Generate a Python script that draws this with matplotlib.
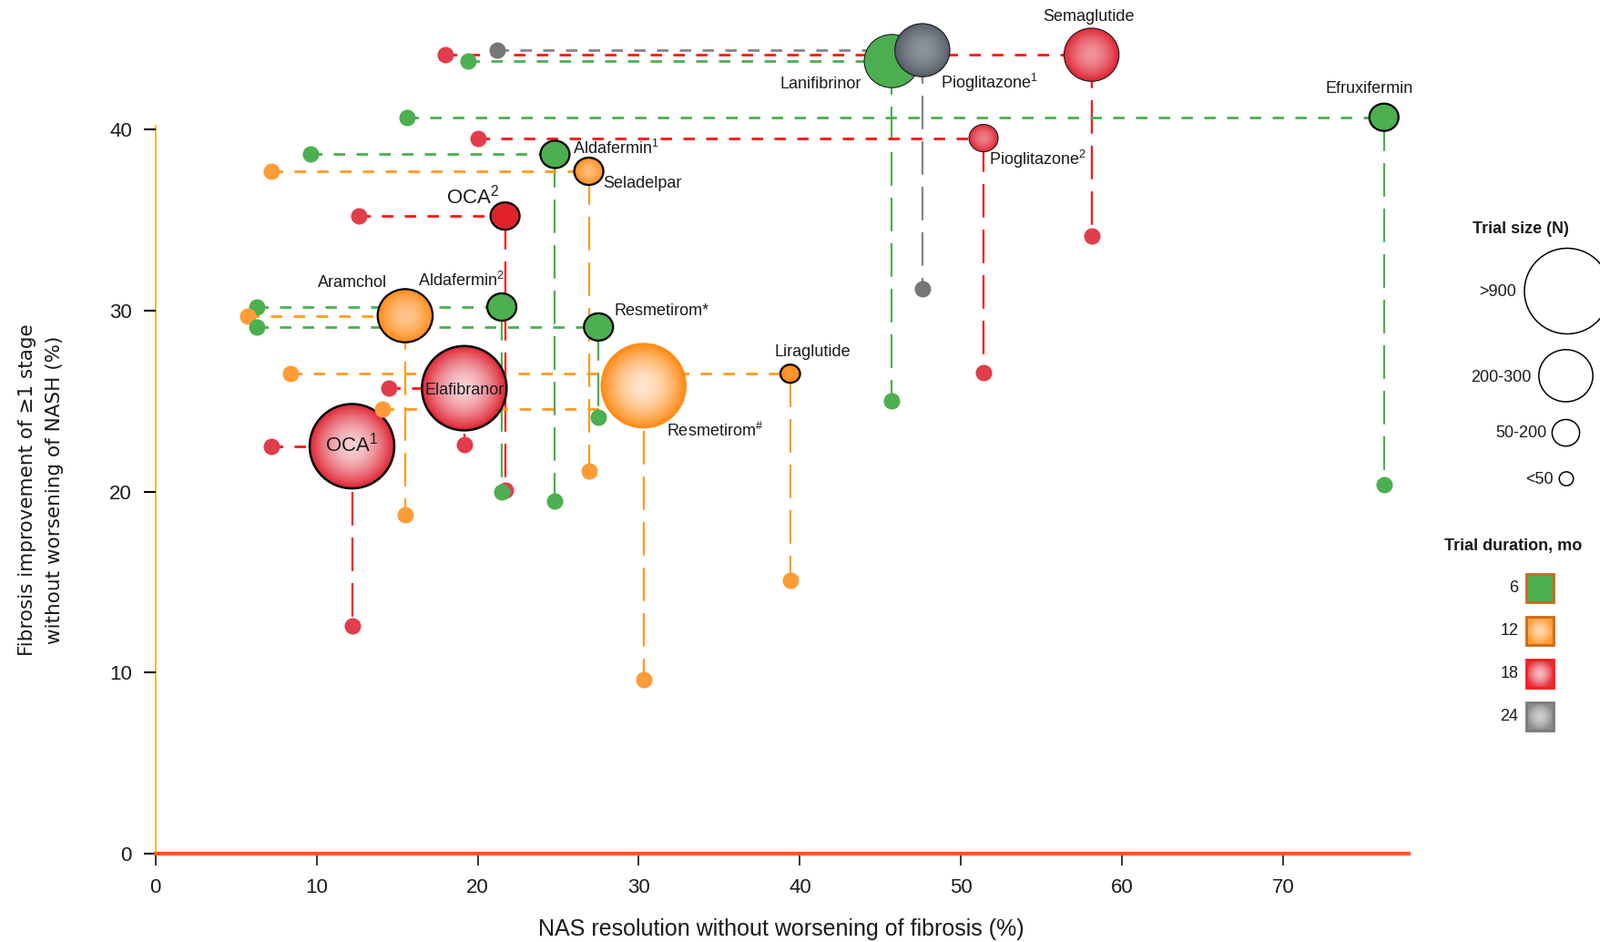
import numpy as np
import matplotlib
matplotlib.use("Agg")
import matplotlib.pyplot as plt
from matplotlib.patches import Ellipse, Rectangle
from matplotlib.colors import to_rgb

plt.rcParams['font.family'] = ['Liberation Sans', 'DejaVu Sans']
plt.rcParams['lines.scale_dashes'] = False
plt.rcParams['mathtext.fontset'] = 'custom'
plt.rcParams['mathtext.rm'] = 'Liberation Sans'
plt.rcParams['mathtext.it'] = 'Liberation Sans:italic'
plt.rcParams['mathtext.bf'] = 'Liberation Sans:bold'

# ---------------- data ----------------
drugs = ['Semaglutide', 'Lanifibrinor', 'Pioglitazone$^{\\mathrm{1}}$', 'Efruxifermin',
         'Pioglitazone$^{\\mathrm{2}}$', 'Aldafermin$^{\\mathrm{1}}$', 'Seladelpar',
         'OCA$^{\\mathrm{2}}$', 'Aldafermin$^{\\mathrm{2}}$', 'Aramchol', 'Resmetirom*',
         'Elafibranor', 'OCA$^{\\mathrm{1}}$', 'Resmetirom$^{\\#}$', 'Liraglutide']
# drug arm position (NAS resolution %, fibrosis improvement %)
nas_drug = [58.1, 45.7, 47.6, 76.25, 51.4, 24.8, 26.9, 21.7, 21.5, 15.5, 27.5, 19.17, 12.2, 30.3, 39.4]
fib_drug = [44.1, 43.75, 44.35, 40.65, 39.5, 38.6, 37.67, 35.2, 30.18, 29.7, 29.08, 25.7, 22.5, 25.84, 26.5]
# placebo comparators: horizontal link (x of placebo marker, y of link)
nas_pbo = [18.0, 19.4, 21.2, 15.6, 20.0, 9.6, 7.2, 12.6, 6.3, 5.7, 6.3, 14.5, 7.2, 14.1, 8.4]
fib_link = [44.1, 43.75, 44.35, 40.65, 39.5, 38.6, 37.67, 35.2, 30.18, 29.7, 29.08, 25.7, 22.5, 24.55, 26.5]
# placebo comparators: vertical link (y of placebo marker)
fib_pbo = [34.1, 25.0, 31.2, 20.4, 26.55, 19.45, 21.15, 20.1, 20.0, 18.7, 24.1, 22.6, 12.6, 9.6, 15.1]
duration = [18, 6, 24, 6, 18, 6, 12, 18, 6, 12, 6, 18, 18, 12, 12]
size_cat = ['200-300', '200-300', '200-300', '50-200', '50-200', '50-200', '50-200', '50-200',
            '50-200', '200-300', '50-200', '>900', '>900', '>900', '<50']

x_ticks = [0, 10, 20, 30, 40, 50, 60, 70]
y_ticks = [0, 10, 20, 30, 40]
size_legend = ['>900', '200-300', '50-200', '<50']
duration_legend = [6, 12, 18, 24]

# ---------------- styles / layout ----------------
W, H = 1757, 1034
X0, SX = 170.66, 17.693     # pixel of x=0, pixels per unit
Y0, SY = 937.4, 19.894      # pixel of y=0, pixels per unit
XMAX, YMAX = 77.8, 47.0

dur_style = {
    6:  dict(line='#4CAF50', c='#4CAF50', e='#4CAF50', pbo='#4CAF50'),
    12: dict(line='#FF9A1F', c='#FFE6CF', e='#FF8A14', pbo='#FF9C38'),
    18: dict(line='#FF1414', c='#F8D0D5', e='#DE2230', pbo='#E23D4B'),
    24: dict(line='#858585', c='#AEB3BA', e='#545C66', pbo='#767676'),
}
bubble_px = {'>900': (46.5, 46.3), '200-300': (30.2, 29.2), '50-200': (16.0, 15.0), '<50': (10.8, 10.0)}
light_k = {'>900': 1.0, '200-300': 0.65, '50-200': 0.55, '<50': 0.15}
thin_edge = {'Semaglutide', 'Lanifibrinor', 'Pioglitazone$^{\\mathrm{1}}$', 'Pioglitazone$^{\\mathrm{2}}$'}
solid_red = {'OCA$^{\\mathrm{2}}$'}
no_black_edge = {'Resmetirom$^{\\#}$'}

# label offsets in pixels (dx right, dy down), ha, fontsize
label_fmt = {
    'Semaglutide': (-3.6, -41.8, 'center', 13),
    'Lanifibrinor': (-33.3, 25.3, 'right', 13),
    'Pioglitazone$^{\\mathrm{1}}$': (20, 35.5, 'left', 13),
    'Efruxifermin': (-16.5, -31.4, 'center', 13),
    'Pioglitazone$^{\\mathrm{2}}$': (6, 23.5, 'left', 13),
    'Aldafermin$^{\\mathrm{1}}$': (20, -7, 'left', 13),
    'Seladelpar': (16, 13.7, 'left', 13),
    'OCA$^{\\mathrm{2}}$': (-35.9, -21.5, 'center', 16),
    'Aldafermin$^{\\mathrm{2}}$': (-45, -29.5, 'center', 13),
    'Aramchol': (-57.4, -35.8, 'center', 13),
    'Resmetirom*': (16.8, -17.2, 'left', 13),
    'Elafibranor': (0, 2, 'center', 13),
    'OCA$^{\\mathrm{1}}$': (0, -2.5, 'center', 16),
    'Resmetirom$^{\\#}$': (25, 50, 'left', 13),
    'Liraglutide': (25, -23.5, 'center', 13),
}


def mix(a, b, k):
    a, b = np.array(to_rgb(a)), np.array(to_rgb(b))
    return a * (1 - k) + b * k


def radial(c0, c1, n=160, power=1.7):
    yy, xx = np.mgrid[-1:1:n * 1j, -1:1:n * 1j]
    t = np.clip(np.hypot(xx, yy), 0, 1) ** power
    c0, c1 = np.array(to_rgb(c0)), np.array(to_rgb(c1))
    return c0 * (1 - t[..., None]) + c1 * t[..., None]


fig = plt.figure(figsize=(W / 100, H / 100), dpi=100)
fig.patch.set_facecolor('white')
ax = fig.add_axes([X0 / W, 1 - Y0 / H, SX * XMAX / W, SY * YMAX / H])
ax.set_autoscale_on(False)
ax.set_xlim(0, XMAX)
ax.set_ylim(0, YMAX)
ax.patch.set_visible(False)

n = len(drugs)
for i in range(n):
    st = dur_style[duration[i]]
    # horizontal link from placebo to drug
    ax.plot([nas_pbo[i], nas_drug[i]], [fib_link[i], fib_link[i]], color=st['line'], lw=2.0,
            ls=(0, (9, 9)), dash_capstyle='butt', zorder=2, clip_on=False)
    # vertical link from drug down to placebo
    ax.plot([nas_drug[i], nas_drug[i]], [fib_drug[i], fib_pbo[i]], color=st['line'], lw=1.6,
            ls=(0, (26.5, 9.5)), dash_capstyle='butt', zorder=2, clip_on=False)

for i in range(n):
    st = dur_style[duration[i]]
    name = drugs[i]
    x, y = nas_drug[i], fib_drug[i]
    rx, ry = bubble_px[size_cat[i]]
    w, h = 2 * rx / SX, 2 * ry / SY
    z = 3 + i * 0.01
    if name in solid_red:
        cc, ce = '#E0232B', '#E0232B'
    else:
        cc = mix(st['e'], st['c'], light_k[size_cat[i]])
        ce = st['e']
    clip = Ellipse((x, y), w, h, facecolor='none', edgecolor='none', transform=ax.transData)
    ax.add_patch(clip)
    im = ax.imshow(radial(cc, ce), extent=(x - w / 2, x + w / 2, y - h / 2, y + h / 2),
                   origin='lower', aspect='auto', interpolation='bilinear', zorder=z)
    im.set_clip_path(clip)
    if name in no_black_edge:
        ec, elw = st['e'], 1.0
    elif name in thin_edge:
        ec, elw = '#1a1a1a', 0.8
    else:
        ec, elw = 'black', 1.6 if size_cat[i] != '>900' else 1.8
    ax.add_patch(Ellipse((x, y), w, h, facecolor='none', edgecolor=ec, lw=elw, zorder=z + 0.005))
    dx, dy, ha, fs = label_fmt[name]
    ax.annotate(name, xy=(x, y), xytext=(dx * 0.72, -dy * 0.72), textcoords='offset points',
                ha=ha, va='center', fontsize=fs, color='#1a1a1a', zorder=8)

for i in range(n):
    st = dur_style[duration[i]]
    ax.plot([nas_pbo[i]], [fib_link[i]], 'o', ms=13, color=st['pbo'], mec='none', zorder=6, clip_on=False)
    ax.plot([nas_drug[i]], [fib_pbo[i]], 'o', ms=13, color=st['pbo'], mec='none', zorder=6, clip_on=False)

for s in ['top', 'right']:
    ax.spines[s].set_visible(False)
ax.spines['left'].set_color('#F3B400')
ax.spines['left'].set_linewidth(1.2)
ax.spines['left'].set_bounds(0, 40.2)
ax.spines['bottom'].set_color('#FF5722')
ax.spines['bottom'].set_linewidth(3.0)
ax.spines['left'].set_zorder(1)
ax.set_xticks(x_ticks)
ax.set_yticks(y_ticks)
ax.tick_params(axis='x', length=9.3, width=1.1, color='black', pad=10, labelsize=16, labelcolor='#1a1a1a')
ax.tick_params(axis='y', length=9.1, width=1.5, color='black', pad=9.5, labelsize=16, labelcolor='#1a1a1a')

fig.text(858.3 / W, 1 - 1019.7 / H, 'NAS resolution without worsening of fibrosis (%)',
         ha='center', va='center', fontsize=18, color='#1a1a1a')
fig.text(30 / W, 1 - 538 / H, 'Fibrosis improvement of \u22651 stage', rotation=90,
         ha='center', va='center', fontsize=15.5, family=['DejaVu Sans'], color='#1a1a1a')
fig.text(60 / W, 1 - 538 / H, 'without worsening of NASH (%)', rotation=90,
         ha='center', va='center', fontsize=15.5, family=['DejaVu Sans'], color='#1a1a1a')

# ---------------- legend (pixel overlay) ----------------
lax = fig.add_axes([0, 0, 1, 1])
lax.set_xlim(0, W)
lax.set_ylim(H, 0)
lax.axis('off')

lax.text(1669.6, 252, 'Trial size (N)', ha='center', va='center', fontsize=13, fontweight='bold', color='#1a1a1a')
circ_c = [(1721, 319.5), (1719.5, 412.4), (1719.5, 475.1), (1720, 525.5)]
circ_r = [(47, 47), (29.7, 28.6), (15.1, 14.6), (7.8, 7.6)]
lab_xy = [(1665, 320.5), (1682, 414.6), (1698.7, 475.1), (1705.5, 526.6)]
for lab, (cx, cy), (rx, ry), (tx, ty) in zip(size_legend, circ_c, circ_r, lab_xy):
    lax.add_patch(Ellipse((cx, cy), 2 * rx, 2 * ry, facecolor='none', edgecolor='black', lw=1.1))
    lax.text(tx, ty, lab, ha='right', va='center', fontsize=13, color='#1a1a1a')

lax.text(1662, 599.5, 'Trial duration, mo', ha='center', va='center', fontsize=13, fontweight='bold', color='#1a1a1a')
sq_y = [645.4, 692.5, 739.6, 786.6]
sq_edge = {6: '#C8691E', 12: '#CC6A14', 18: '#FF1A1A', 24: '#7A7A7A'}
sq_fill = {6: ('#4CAF50', '#4CAF50'), 12: ('#FFD9AE', '#FF9A30'), 18: ('#F4BCC3', '#E8303F'), 24: ('#CFCFCF', '#8A8A8A')}
for d, cy in zip(duration_legend, sq_y):
    cx, w, h = 1690.9, 29.5, 31
    c0, c1 = sq_fill[d]
    lax.imshow(radial(c0, c1, power=1.5), extent=(cx - w / 2, cx + w / 2, cy + h / 2, cy - h / 2),
               aspect='auto', interpolation='bilinear', zorder=2)
    lax.add_patch(Rectangle((cx - w / 2, cy - h / 2), w, h, facecolor='none', edgecolor=sq_edge[d], lw=2.0, zorder=3))
    lax.text(1667.4, cy, str(d), ha='right', va='center', fontsize=13, color='#1a1a1a')
lax.set_xlim(0, W)
lax.set_ylim(H, 0)

fig.savefig('out.png', dpi=100, facecolor='white')
